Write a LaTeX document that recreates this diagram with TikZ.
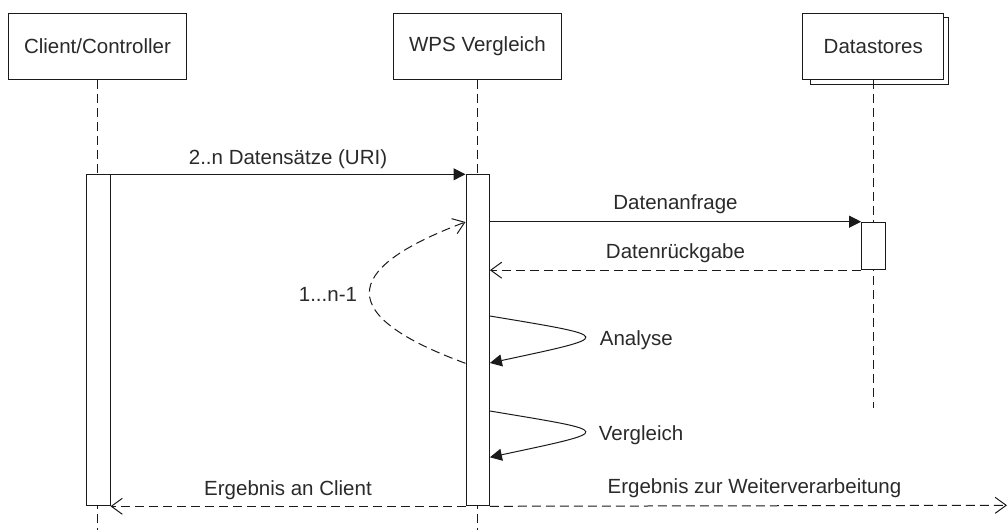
\documentclass[tikz,border=0pt]{standalone}
\usepackage{fontspec}
\setmainfont{Liberation Sans}
\usetikzlibrary{arrows.meta,calc}
\definecolor{ink}{HTML}{1A1A1A}
\definecolor{txt}{HTML}{2A2A2A}
\begin{document}
\begin{tikzpicture}[x=1pt,y=-1pt,
  every node/.style={font=\fontsize{20.5}{24}\selectfont, text=txt},
  line width=1pt, draw=ink,
  actor/.style={draw=ink, fill=white, rectangle, minimum height=66pt, inner sep=0pt},
  actbar/.style={draw=ink, fill=white, rectangle, minimum width=23.4pt, inner sep=0pt, anchor=north},
  lifeline/.style={draw=ink, dash pattern=on 9pt off 5pt},
  sync/.style={draw=ink, -{Triangle[length=12pt,width=12pt]}},
  reply/.style={draw=ink, dash pattern=on 9pt off 5pt, -{Straight Barb[length=11pt,width=16pt,line width=1pt]}},
  lbl/.style={anchor=base, inner sep=0pt},
]
\useasboundingbox (0,0) rectangle (1007,530);

% participants
\node[actor, minimum width=178.4pt] (client) at (97.5,46.3) {Client/Controller};
\node[actor, minimum width=168.4pt] (wps) at (477.5,46.3) {WPS Vergleich};
% datastores: stacked box (multi-object)
\draw[ink, fill=white] (810,17.5) rectangle (948,84);
\node[actor, minimum width=141pt, minimum height=65.5pt] (ds) at (873.3,46.5) {Datastores};

% lifelines
\coordinate (clEnd) at (client.south |- 0,530);
\coordinate (wpsEnd) at (wps.south |- 0,530);
\coordinate (dsEnd) at (ds.south |- 0,408);
\draw[lifeline] (client.south) -- (clEnd);
\draw[lifeline] (wps.south) -- (wpsEnd);
\draw[lifeline] (ds.south) -- (dsEnd);

% activation bars
\node[actbar, minimum height=331pt] (ca) at (98.3,174.3) {};
\node[actbar, minimum height=331pt] (wa) at (477.7,174.3) {};
\node[actbar, minimum height=47.5pt] (da) at (873.3,221.7) {};

% messages
\draw[sync] (ca.north east) -- (wa.north west)
  node[lbl, midway, yshift=10pt] {2..n Datensätze (URI)};
\draw[sync] (da.north west -| wa.east) -- (da.north west)
  node[lbl, midway, yshift=12pt] {Datenanfrage};
\draw[reply] (da.south west) -- (da.south west -| wa.east)
  node[lbl, midway, yshift=11.5pt] {Datenrückgabe};

% repetition loop on the WPS bar
\path (wa.north west) ++(0,189) coordinate (loopS);
\path (wa.north west) ++(0,47.7) coordinate (loopE);
\draw[reply] (loopS) .. controls ++(-128,-47) and ($(loopE)+(-128,48)$) .. (loopE)
  node[lbl, pos=.5, anchor=base east, xshift=-12pt, yshift=-8pt] {1...n-1};

% self calls
\path (wa.north east) ++(0,141.7) coordinate (anS);
\path (wa.north east) ++(0,188.7) coordinate (anE);
\draw[sync] (anS) .. controls ++(126,21) and ($(anE)+(126,-27)$) .. (anE)
  node[lbl, pos=.5, anchor=base west, xshift=15pt, yshift=-8pt] {Analyse};
\path (wa.north east) ++(0,236.7) coordinate (vgS);
\path (wa.north east) ++(0,283) coordinate (vgE);
\draw[sync] (vgS) .. controls ++(126,21) and ($(vgE)+(126,-27)$) .. (vgE)
  node[lbl, pos=.5, anchor=base west, xshift=14pt, yshift=-9pt] {Vergleich};

% results
\coordinate (out) at (1007,505.3);
\draw[reply] (wa.south west) -- (ca.south east)
  node[lbl, midway, yshift=11pt] {Ergebnis an Client};
\draw[reply] (wa.south east) -- (out)
  node[lbl, midway, xshift=6pt, yshift=12pt] {Ergebnis zur Weiterverarbeitung};
\end{tikzpicture}
\end{document}
